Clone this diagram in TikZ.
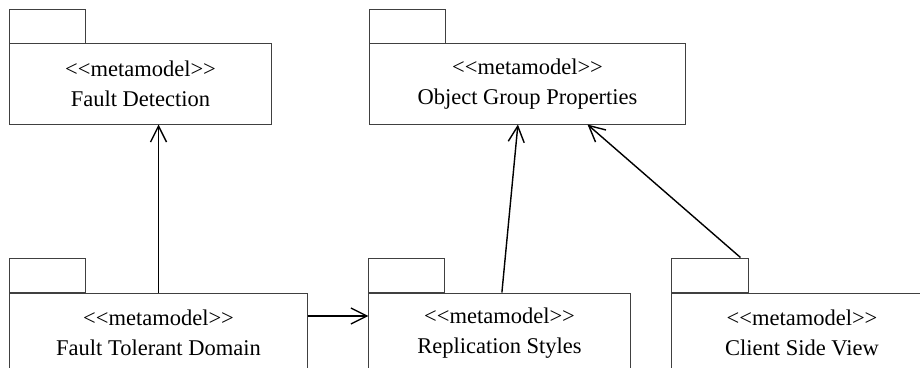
\documentclass[tikz,border=0pt]{standalone}
\usepackage{fontspec}
\setmainfont{Liberation Serif}[Ligatures=TeXOff]
\usetikzlibrary{arrows.meta,positioning}

\begin{document}
\begin{tikzpicture}[
  x=0.025cm, y=-0.025cm,
  every node/.style={font=\fontsize{16}{21}\selectfont},
  pkg/.style={rectangle, draw=black!75, line width=0.7pt,
    minimum height=2cm, align=center, inner sep=0pt},
  pkgtab/.style={rectangle, draw=black!75, line width=0.7pt,
    minimum width=1.9cm, minimum height=0.85cm, inner sep=0pt},
  dep/.style={-{Straight Barb[length=4mm,width=4mm]}, line width=1pt},
]
\path[use as bounding box, clip] (0,0) rectangle (920,368);

% top row
\node[pkg, minimum width=6.525cm] at (140.5, 84) (fd) {<<metamodel>>\\Fault Detection};
\node[pkg, minimum width=7.875cm] at (527.5, 84) (ogp) {<<metamodel>>\\Object Group Properties};

% bottom row
\node[pkg, minimum width=7.425cm] at (158.5, 333) (ftd) {<<metamodel>>\\Fault Tolerant Domain};
\node[pkg, minimum width=6.525cm] at (499.5, 333) (rs) {<<metamodel>>\\Replication Styles};
\node[pkg, minimum width=6.5cm] at (802, 333) (csv) {<<metamodel>>\\Client Side View};

% tabs
\node[pkgtab, above right=0pt and 0pt of fd.north west] (fdtab) {};
\node[pkgtab, above right=0pt and 0pt of ogp.north west] (ogptab) {};
\node[pkgtab, above right=0pt and 0pt of ftd.north west] (ftdtab) {};
\node[pkgtab, above right=0pt and 0pt of rs.north west] (rstab) {};
\node[pkgtab, above right=0pt and 0pt of csv.north west] (csvtab) {};

% dependencies
\draw[dep] (ftd.north) -- (ftd.north |- fd.south);
\draw[dep] ([yshift=0.425cm]ftd.east) -- ([yshift=0.425cm]rs.west);
\draw[dep] ([xshift=0.06cm]rs.north) -- ([xshift=-0.24cm]ogp.south);
\draw[dep] ([xshift=-0.2cm]csvtab.north east) -- ([xshift=1.5cm]ogp.south);

\end{tikzpicture}
\end{document}
